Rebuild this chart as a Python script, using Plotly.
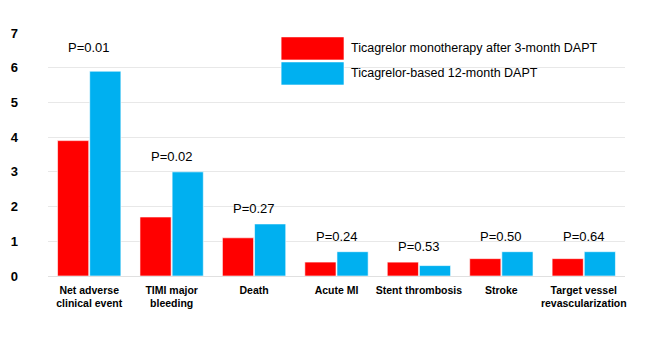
import plotly.graph_objects as go

# Event rates (%) by endpoint and treatment strategy
categories = [
    "Net adverse<br>clinical event",
    "TIMI major<br>bleeding",
    "Death",
    "Acute MI",
    "Stent thrombosis",
    "Stroke",
    "Target vessel<br>revascularization",
]
mono_3m = [3.9, 1.7, 1.1, 0.4, 0.4, 0.5, 0.5]
dapt_12m = [5.9, 3.0, 1.5, 0.7, 0.3, 0.7, 0.7]
p_values = ["P=0.01", "P=0.02", "P=0.27", "P=0.24", "P=0.53", "P=0.50", "P=0.64"]
series_names = ["Ticagrelor monotherapy after 3-month DAPT", "Ticagrelor-based 12-month DAPT"]
series_colors = ["#FF0000", "#00B0F0"]
y_ticks = [0, 1, 2, 3, 4, 5, 6, 7]

font_family = "Liberation Sans, Arial, sans-serif"

fig = go.Figure()
for name, vals, color in zip(series_names, [mono_3m, dapt_12m], series_colors):
    fig.add_trace(go.Bar(
        x=categories, y=vals, name=name,
        marker=dict(color=color, line=dict(color="white", width=0.6)),
        showlegend=False,
    ))

# P-value labels above each group's tallest bar
for i, (cat, p) in enumerate(zip(categories, p_values)):
    top = max(mono_3m[i], dapt_12m[i])
    fig.add_annotation(
        x=cat, y=top, text=p, showarrow=False,
        xanchor="center", yanchor="bottom",
        yshift=14 if i == 0 else 6,
        font=dict(family=font_family, size=13, color="#000000"),
    )

# Legend drawn as swatches with labels
swatch_x = (0.404, 0.513)
swatch_y = [(0.889, 0.984), (0.786, 0.881)]
label_y = [0.938, 0.835]
fig.add_shape(type="rect", xref="paper", yref="paper",
              x0=0.40, x1=0.95, y0=0.78, y1=0.985,
              fillcolor="white", line=dict(width=0), layer="between")
for name, color, (y0, y1), ly in zip(series_names, series_colors, swatch_y, label_y):
    fig.add_shape(type="rect", xref="paper", yref="paper",
                  x0=swatch_x[0], x1=swatch_x[1], y0=y0, y1=y1,
                  fillcolor=color, line=dict(color="white", width=0.6), layer="above")
    fig.add_annotation(xref="paper", yref="paper", x=0.521, y=ly, text=name,
                       showarrow=False, xanchor="left", yanchor="middle",
                       font=dict(family=font_family, size=12.5, color="#000000"))

fig.update_layout(
    width=652, height=344,
    margin=dict(l=48, r=27, t=33, b=68),
    paper_bgcolor="white", plot_bgcolor="white",
    barmode="group", bargap=0.22, bargroupgap=0.03,
    font=dict(family=font_family, color="#000000"),
)
fig.update_xaxes(
    showgrid=False, showline=False, ticks="", automargin=False,
    tickfont=dict(family=font_family, size=10.5, color="#000000", weight="bold"),
    ticklabelstandoff=6, tickangle=0,
)
fig.update_yaxes(
    range=[0, 7], tickvals=y_ticks, showgrid=True, gridcolor="#E8E8E8", gridwidth=1,
    zeroline=True, zerolinecolor="#E0E0E0", zerolinewidth=1,
    showline=False, ticks="", automargin=False,
    tickfont=dict(family=font_family, size=13, color="#000000", weight="bold"),
    ticklabelstandoff=29,
)

fig.write_html("out.html")
